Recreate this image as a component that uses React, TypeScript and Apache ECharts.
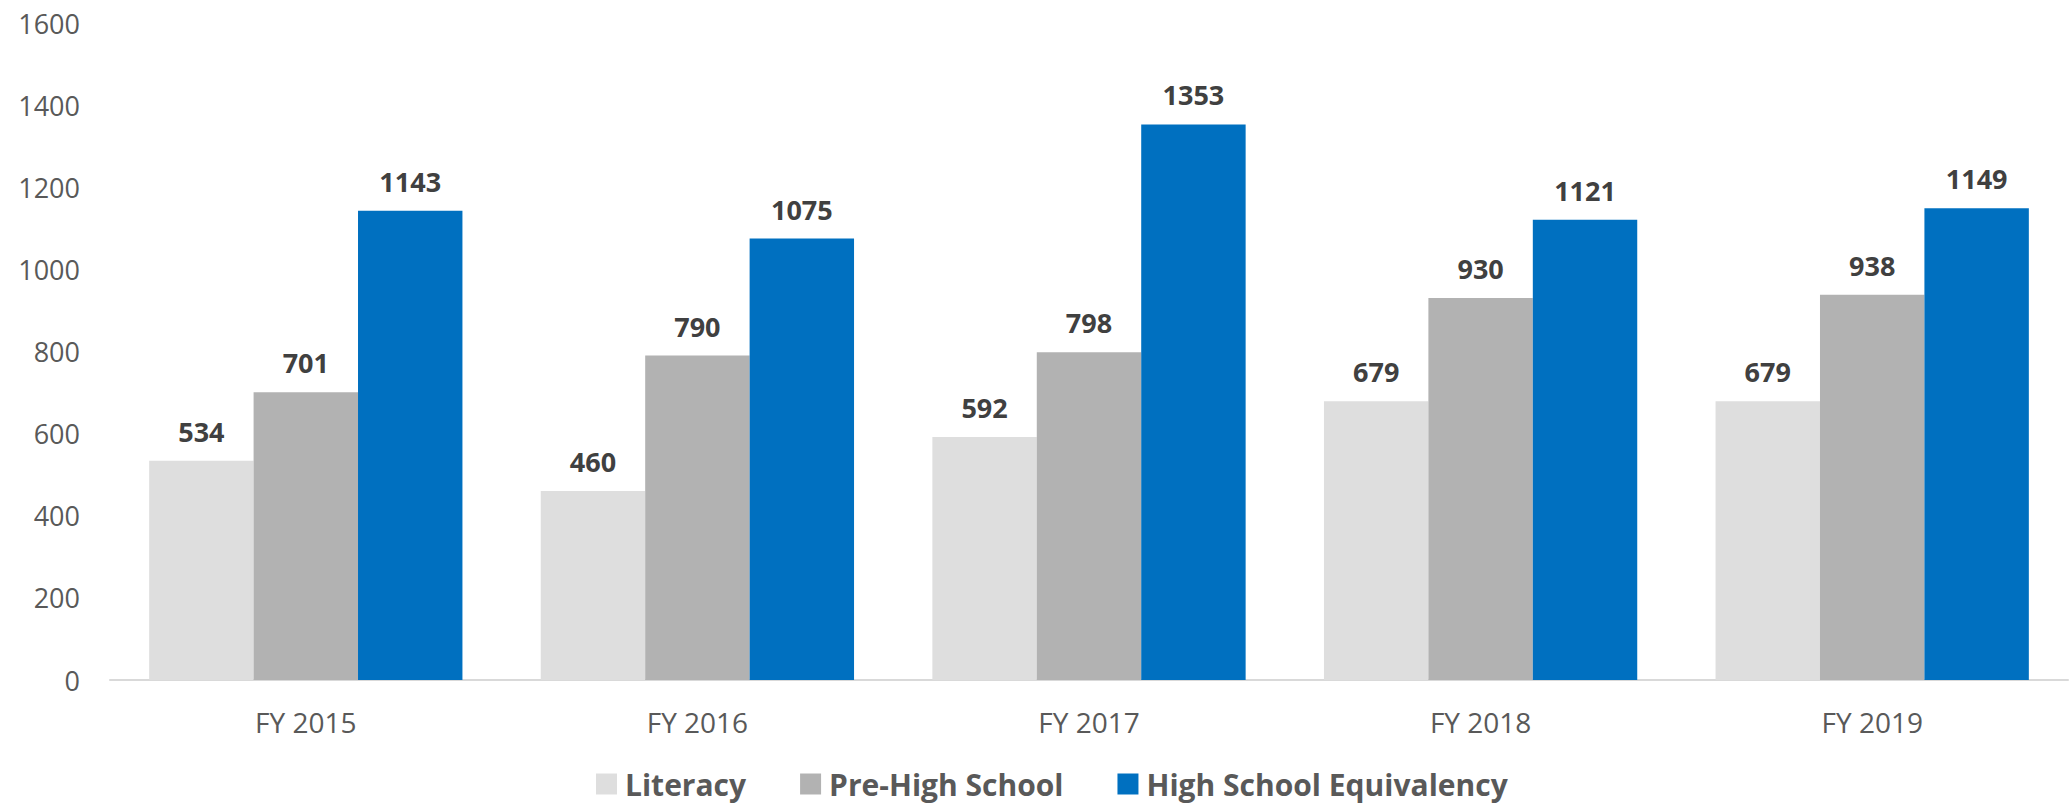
import React, { useEffect, useRef } from "react";
import * as echarts from "echarts";

const categories = ["FY 2015", "FY 2016", "FY 2017", "FY 2018", "FY 2019"];
const literacy = [534, 460, 592, 679, 679];
const preHighSchool = [701, 790, 798, 930, 938];
const highSchoolEquivalency = [1143, 1075, 1353, 1121, 1149];
const seriesNames = ["Literacy", "Pre-High School", "High School Equivalency"];
const seriesColors = ["#dedede", "#b2b2b2", "#0070c0"];

const FONT = "'Open Sans', 'Noto Sans', sans-serif";

export default function App() {
  const ref = useRef<HTMLDivElement>(null);
  useEffect(() => {
    if (!ref.current) return;
    const chart = echarts.init(ref.current, undefined, { renderer: "svg" });
    const dataSets = [literacy, preHighSchool, highSchoolEquivalency];
    chart.setOption({
      animation: false,
      backgroundColor: "#ffffff",
      textStyle: { fontFamily: FONT },
      grid: { left: 110, right: 4, top: 23, bottom: 127, containLabel: false },
      legend: {
        show: true,
        left: 591,
        top: 762,
        itemWidth: 21,
        itemHeight: 21,
        itemGap: 54,
        icon: "rect",
        textStyle: {
          fontFamily: FONT,
          fontSize: 30,
          lineHeight: 34,
          fontWeight: "bold",
          color: "#595959",
          padding: [0, 0, 0, 3],
        },
        data: seriesNames,
      },
      xAxis: {
        type: "category",
        data: categories,
        axisLine: { show: true, lineStyle: { color: "#d9d9d9", width: 2 } },
        axisTick: { show: false },
        axisLabel: { fontFamily: FONT, fontSize: 28, color: "#595959", margin: 28 },
        splitLine: { show: false },
      },
      yAxis: {
        type: "value",
        min: 0,
        max: 1600,
        interval: 200,
        axisLine: { show: false },
        axisTick: { show: false },
        splitLine: { show: false },
        axisLabel: { fontFamily: FONT, fontSize: 27, color: "#595959", margin: 30, formatter: (v: number) => String(v) },
      },
      series: dataSets.map((d, i) => ({
        name: seriesNames[i],
        type: "bar",
        data: d,
        barGap: "0%",
        barCategoryGap: "20%",
        itemStyle: { color: seriesColors[i] },
        label: {
          show: true,
          position: "top",
          distance: 16,
          fontFamily: FONT,
          fontSize: 27,
          fontWeight: "bold",
          color: "#404040",
        },
      })),
    });
    return () => chart.dispose();
  }, []);
  return (
    <div
      ref={ref}
      style={{ position: "fixed", left: 0, top: 0, width: 2072, height: 807 }}
    />
  );
}
